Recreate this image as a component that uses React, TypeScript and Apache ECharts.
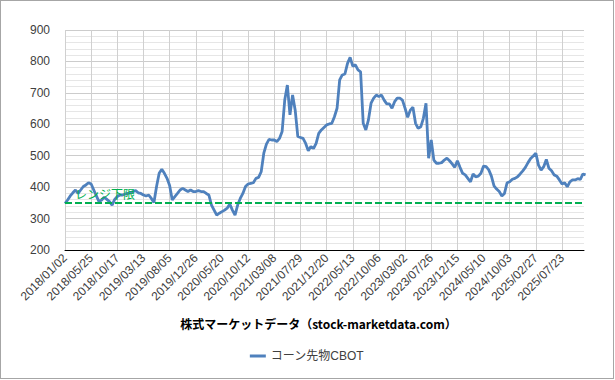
import React, { useEffect, useRef } from "react";
import * as echarts from "echarts";

// Tick labels of the category-like date axis (one every 100 trading days)
const tickLabels: string[] = [
  "2018/01/02", "2018/05/25", "2018/10/17", "2019/03/13", "2019/08/05",
  "2019/12/26", "2020/05/20", "2020/10/12", "2021/03/08", "2021/07/29",
  "2021/12/20", "2022/05/13", "2022/10/06", "2023/03/02", "2023/07/26",
  "2023/12/15", "2024/05/10", "2024/10/03", "2025/02/27", "2025/07/23",
];

// Days per tick label and sampling step of the series (trading days)
const DAYS_PER_LABEL = 100;
const SAMPLE_STEP = 10;
const LAST_DAY = 1984;

const cornValues: number[] = [
  348, 359, 372, 382, 391, 380, 391, 402, 407, 414,
  410, 391, 372, 354, 359, 368, 361, 354, 343, 361,
  370, 375, 375, 378, 380, 382, 386, 389, 382, 380,
  375, 372, 375, 364, 351, 402, 444, 457, 444, 428,
  405, 359, 370, 380, 391, 396, 391, 386, 391, 386,
  386, 389, 386, 386, 380, 375, 343, 327, 311, 317,
  322, 327, 333, 346, 327, 311, 343, 364, 380, 402,
  410, 412, 414, 428, 431, 449, 508, 537, 552, 550,
  550, 545, 555, 577, 677, 725, 630, 693, 645, 561,
  558, 555, 539, 516, 529, 523, 539, 571, 582, 590,
  598, 601, 603, 624, 651, 741, 757, 760, 794, 813,
  785, 789, 773, 767, 603, 582, 614, 667, 683, 693,
  688, 693, 677, 665, 665, 651, 672, 683, 683, 677,
  651, 622, 645, 654, 603, 587, 592, 619, 667, 492,
  550, 486, 476, 476, 478, 486, 492, 484, 474, 463,
  484, 463, 444, 439, 428, 417, 442, 433, 435, 444,
  467, 465, 455, 435, 404, 394, 386, 372, 380, 414,
  417, 425, 428, 433, 442, 452, 463, 478, 491, 499,
  508, 470, 454, 465, 488, 460, 452, 439, 435, 423,
  410, 414, 401, 417, 423, 423, 427, 425, 442, 439,
];

const rangeLow = 350;
const rangeLabel = "レンジ下限";
const seriesName = "コーン先物CBOT";
const axisTitle = "株式マーケットデータ（stock-marketdata.com）";

const FONT = '"Liberation Sans", Arial, "Noto Sans CJK JP", sans-serif';

export default function App() {
  const ref = useRef<HTMLDivElement>(null);

  useEffect(() => {
    if (!ref.current) return;
    const chart = echarts.init(ref.current, undefined, { renderer: "svg" });
    const seriesData = cornValues.map((v, i) => [i * SAMPLE_STEP, v]);

    chart.setOption({
      animation: false,
      textStyle: { fontFamily: FONT },
      grid: { left: 64, right: 29, top: 29, bottom: 128, containLabel: false },
      xAxis: {
        type: "value",
        min: 0,
        max: LAST_DAY,
        interval: DAYS_PER_LABEL,
        name: axisTitle,
        nameLocation: "middle",
        nameGap: 67,
        nameTextStyle: {
          fontFamily: '"Noto Sans CJK JP", "Liberation Sans", sans-serif',
          fontWeight: "bold",
          fontSize: 12,
          color: "#000000",
          padding: [0, 12, 0, 0],
        },
        axisLine: { show: true, lineStyle: { color: "#000000", width: 1 } },
        axisTick: { show: false },
        axisLabel: {
          rotate: 45,
          fontSize: 12,
          color: "#404040",
          margin: 6,
          showMaxLabel: false,
          formatter: (v: number) =>
            v % DAYS_PER_LABEL === 0 ? tickLabels[v / DAYS_PER_LABEL] ?? "" : "",
        },
        splitLine: {
          show: true,
          showMaxLine: false,
          lineStyle: { color: "#d0d0d0", width: 1 },
        },
      },
      yAxis: {
        type: "value",
        min: 200,
        max: 900,
        interval: 100,
        axisLine: { show: false },
        axisTick: { show: false },
        axisLabel: { fontSize: 12, color: "#404040", margin: 15 },
        splitLine: { show: true, lineStyle: { color: "#cccccc", width: 1 } },
        minorTick: { show: false, splitNumber: 5 },
        minorSplitLine: { show: true, lineStyle: { color: "#e6e6e6", width: 1 } },
      },
      legend: {
        bottom: 11,
        left: "center",
        icon: "rect",
        itemWidth: 16,
        itemHeight: 3,
        itemGap: 10,
        textStyle: {
          fontSize: 12,
          color: "#404040",
          fontFamily: '"Liberation Sans", "Noto Sans CJK JP", sans-serif',
        },
        data: [seriesName],
      },
      series: [
        {
          name: seriesName,
          type: "line",
          data: seriesData,
          showSymbol: false,
          symbol: "none",
          lineStyle: { color: "#4f81bd", width: 2.8 },
          itemStyle: { color: "#4f81bd" },
          emphasis: { disabled: true },
          z: 3,
          markLine: {
            silent: true,
            symbol: "none",
            animation: false,
            data: [{ yAxis: rangeLow }],
            lineStyle: { color: "#00b050", type: [7, 3], width: 2 },
            label: {
              show: true,
              formatter: rangeLabel,
              position: "insideStartTop",
              distance: [10, 3],
              color: "#00b050",
              fontSize: 12,
              fontFamily: '"Noto Sans CJK JP", sans-serif',
            },
            z: 4,
          },
        },
      ],
    });

    return () => chart.dispose();
  }, []);

  return (
    <div
      style={{
        position: "fixed",
        left: 0,
        top: 0,
        width: 614,
        height: 379,
        boxSizing: "border-box",
        border: "1px solid #a6a6a6",
        background: "#ffffff",
      }}
    >
      <div ref={ref} style={{ width: 612, height: 377 }} />
    </div>
  );
}
